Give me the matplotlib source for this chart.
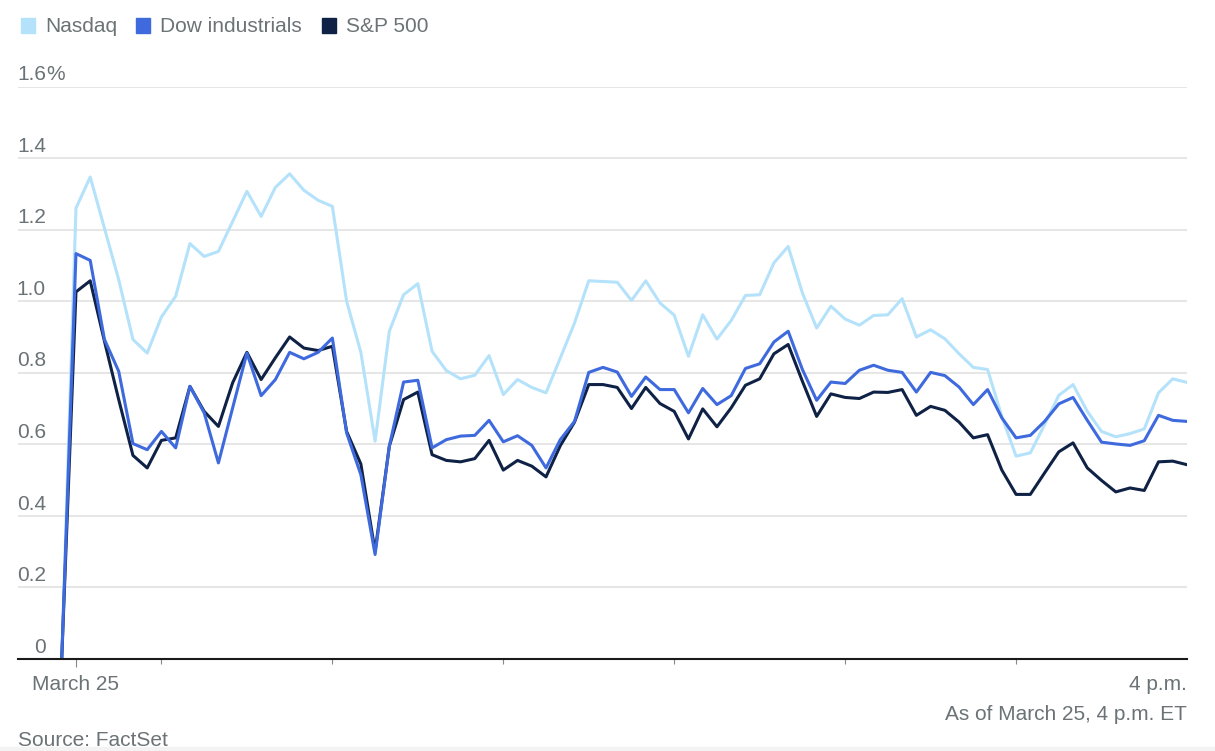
import matplotlib
matplotlib.use("Agg")
import matplotlib.pyplot as plt
import matplotlib.dates as mdates
from matplotlib.patches import Rectangle
import pandas as pd

# intraday change, % (5-minute marks, first point = prior close)
times = pd.date_range("2025-03-25 09:25", "2025-03-25 16:00", freq="5min")

nasdaq = [0, 1.26, 1.347, 1.204, 1.06, 0.893, 0.855, 0.956, 1.014, 1.161, 1.125,
          1.139, 1.223, 1.307, 1.237, 1.318, 1.356, 1.31, 1.282, 1.265, 1.0,
          0.857, 0.609, 0.916, 1.018, 1.049, 0.86, 0.806, 0.783, 0.793, 0.848,
          0.739, 0.781, 0.759, 0.744, 0.841, 0.939, 1.057, 1.055, 1.053, 1.002,
          1.057, 0.995, 0.961, 0.846, 0.962, 0.894, 0.946, 1.016, 1.018, 1.107,
          1.153, 1.023, 0.925, 0.986, 0.95, 0.933, 0.96, 0.962, 1.007, 0.9,
          0.92, 0.895, 0.853, 0.815, 0.809, 0.678, 0.567, 0.576, 0.655, 0.737,
          0.767, 0.692, 0.636, 0.621, 0.63, 0.643, 0.744, 0.783, 0.773]

dow = [0, 1.133, 1.114, 0.893, 0.804, 0.602, 0.585, 0.636, 0.59, 0.762, 0.688,
       0.548, 0.702, 0.855, 0.736, 0.781, 0.857, 0.839, 0.857, 0.897, 0.632,
       0.515, 0.292, 0.595, 0.774, 0.779, 0.59, 0.613, 0.623, 0.625, 0.667,
       0.607, 0.624, 0.597, 0.534, 0.613, 0.664, 0.801, 0.815, 0.802, 0.734,
       0.788, 0.753, 0.753, 0.688, 0.756, 0.711, 0.736, 0.812, 0.825, 0.886,
       0.916, 0.809, 0.723, 0.774, 0.77, 0.807, 0.821, 0.807, 0.801, 0.746,
       0.801, 0.792, 0.76, 0.711, 0.753, 0.674, 0.618, 0.625, 0.664, 0.713,
       0.731, 0.667, 0.606, 0.601, 0.597, 0.61, 0.681, 0.667, 0.664]

sp500 = [0, 1.026, 1.057, 0.888, 0.725, 0.569, 0.534, 0.611, 0.618, 0.762, 0.692,
         0.65, 0.772, 0.857, 0.781, 0.842, 0.9, 0.869, 0.862, 0.874, 0.636,
         0.545, 0.301, 0.595, 0.725, 0.746, 0.571, 0.555, 0.551, 0.56, 0.611,
         0.528, 0.555, 0.539, 0.509, 0.596, 0.662, 0.767, 0.767, 0.759, 0.7,
         0.759, 0.714, 0.692, 0.615, 0.699, 0.649, 0.702, 0.765, 0.783, 0.853,
         0.879, 0.776, 0.678, 0.741, 0.731, 0.728, 0.746, 0.745, 0.753, 0.681,
         0.706, 0.695, 0.662, 0.618, 0.627, 0.528, 0.46, 0.46, 0.52, 0.579,
         0.604, 0.534, 0.499, 0.467, 0.478, 0.471, 0.551, 0.553, 0.543]

names = ["Nasdaq", "Dow industrials", "S&P 500"]
colors = ["#b5e2fb", "#3e6ade", "#0f2246"]
yticks = [0, 0.2, 0.4, 0.6, 0.8, 1.0, 1.2, 1.4, 1.6]
ylabels = ["0", "0.2", "0.4", "0.6", "0.8", "1.0", "1.2", "1.4", "1.6"]

txt = "#6b7376"
plt.rcParams["font.family"] = ["Liberation Sans", "DejaVu Sans"]

fig = plt.figure(figsize=(12.15, 7.51), dpi=100)
W, H = 1215, 751
ax = fig.add_axes([18 / W, (H - 659) / H, (1187 - 18) / W, (659 - 86.5) / H])

# draw order: nasdaq, s&p, dow on top
ax.plot(times, nasdaq, color=colors[0], lw=2.2, zorder=3)
ax.plot(times, sp500, color=colors[2], lw=2.2, zorder=4)
ax.plot(times, dow, color=colors[1], lw=2.2, zorder=5)

t_open = pd.Timestamp("2025-03-25 09:30")
t_close = pd.Timestamp("2025-03-25 16:00")
ax.set_xlim(t_open - pd.Timedelta(minutes=20.35), t_close)
ax.set_ylim(0, 1.6)

for y in yticks[1:]:
    ax.axhline(y, color="#e2e2e2", lw=1.2, zorder=1)
# labels right-aligned, "%" hanging after the top one
for y, lab in zip(yticks, ylabels):
    ax.annotate(lab, xy=(0, y), xycoords=("axes fraction", "data"),
                xytext=(28 * 0.72, 4.5), textcoords="offset points",
                ha="right", va="baseline", fontsize=15, color=txt)
ax.annotate("%", xy=(0, yticks[-1]), xycoords=("axes fraction", "data"),
            xytext=(28 * 0.72, 4.5), textcoords="offset points",
            ha="left", va="baseline", fontsize=15, color=txt)

for s in ["top", "right", "left"]:
    ax.spines[s].set_visible(False)
ax.spines["bottom"].set_color("#1a1a1a")
ax.spines["bottom"].set_linewidth(1.5)
ax.spines["bottom"].set_zorder(6)
ax.set_yticks([])

ax.set_xticks([mdates.date2num(t_open)])
ax.set_xticklabels([])
ax.set_xticks(mdates.date2num(pd.date_range("2025-03-25 10:00", "2025-03-25 15:00", freq="1h")), minor=True)
ax.tick_params(axis="x", which="major", length=5.5, width=0.8, color="#888888")
ax.tick_params(axis="x", which="minor", length=3.5, width=0.8, color="#888888")

fig.text(mdates.date2num(t_open) * 0 + 76 / W, 1 - 690 / H, "March 25", ha="center",
         va="baseline", fontsize=15, color=txt)
fig.text(1187 / W, 1 - 690 / H, "4 p.m.", ha="right", va="baseline",
         fontsize=15, color=txt)
fig.text(1187 / W, 1 - 720 / H, "As of March 25, 4 p.m. ET", ha="right", va="baseline",
         fontsize=15, color=txt)
fig.text(18 / W, 1 - 746 / H, "Source: FactSet", ha="left", va="baseline",
         fontsize=15, color=txt)

# legend
leg_x = [21, 136, 322]
for x0, name, c in zip(leg_x, names, colors):
    fig.patches.append(Rectangle((x0 / W, 1 - 33 / H), 14 / W, 15 / H,
                                 transform=fig.transFigure, color=c))
    fig.text((x0 + 24) / W, 1 - 32 / H, name, ha="left", va="baseline",
             fontsize=15, color=txt)

fig.patches.append(Rectangle((0, 0), 1, 4 / H, transform=fig.transFigure,
                             color="#f3f3f3", zorder=0))

fig.savefig("out.png", dpi=100, facecolor="white")
